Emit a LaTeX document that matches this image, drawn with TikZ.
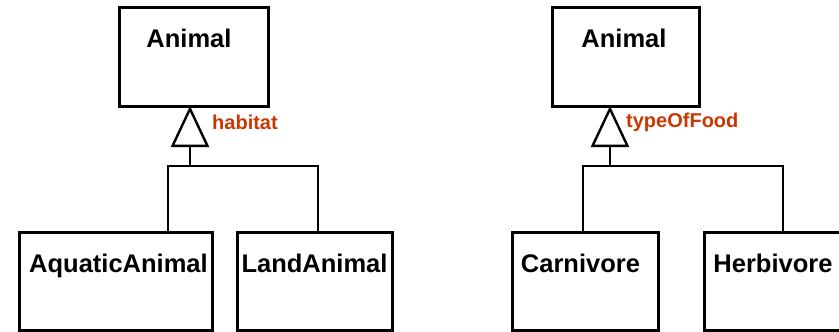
\documentclass[tikz,border=0pt]{standalone}
\usepackage{fontspec}
\setmainfont{Liberation Sans}
\usetikzlibrary{arrows.meta}
\definecolor{lbl}{RGB}{204,55,0}
\begin{document}
\begin{tikzpicture}[x=1pt,y=-1pt,
  cls/.style={draw,line width=3pt,inner sep=0pt,outer sep=0pt},
  ctext/.style={anchor=base,inner sep=0pt,font=\fontsize{25.5}{28}\selectfont\bfseries},
  disc/.style={anchor=base west,inner sep=0pt,text=lbl,font=\fontsize{20}{24}\selectfont\bfseries},
  conn/.style={line width=2.4pt},
  gen/.style={line width=2.4pt,-{Triangle[open,length=41pt,width=38pt,line width=2.4pt]}}]
\clip (0,0) rectangle (839,332);
\fill[white] (0,0) rectangle (839,332);
% left tree
\node[cls,minimum width=149pt,minimum height=99pt] (a1) at (193.5,56.5) {};
\node[ctext] (a1t) at (189,47) {Animal};
\node[cls,minimum width=193pt,minimum height=98pt] (aq) at (115.5,281) {};
\node[ctext] (aqt) at (118.5,272) {AquaticAnimal};
\node[cls,minimum width=155pt,minimum height=98pt] (la) at (314.5,281) {};
\node[ctext] (lat) at (314.5,272) {LandAnimal};
\coordinate (j1) at (190,166);
\coordinate (jl1) at (168,166);
\coordinate (jr1) at (318,166);
\draw[conn] (jl1 |- aq.north) -- (jl1) -- (jr1) -- (jr1 |- la.north);
\draw[gen] (j1) -- (j1 |- a1.south);
\node[disc] (hab) at (212,129) {habitat};
% right tree
\node[cls,minimum width=147pt,minimum height=99pt] (a2) at (625.5,56.5) {};
\node[ctext] (a2t) at (624,47) {Animal};
\node[cls,minimum width=146pt,minimum height=98pt] (ca) at (585,281) {};
\node[ctext] (cat) at (580.5,272) {Carnivore};
\node[cls,minimum width=146pt,minimum height=98pt] (he) at (777,281) {};
\node[ctext] (het) at (773,272) {Herbivore};
\coordinate (j2) at (610,166);
\coordinate (jl2) at (583,166);
\coordinate (jr2) at (783,166);
\draw[conn] (jl2 |- ca.north) -- (jl2) -- (jr2) -- (jr2 |- he.north);
\draw[gen] (j2) -- (j2 |- a2.south);
\node[disc] (tof) at (626,127) {typeOfFood};
\end{tikzpicture}
\end{document}
